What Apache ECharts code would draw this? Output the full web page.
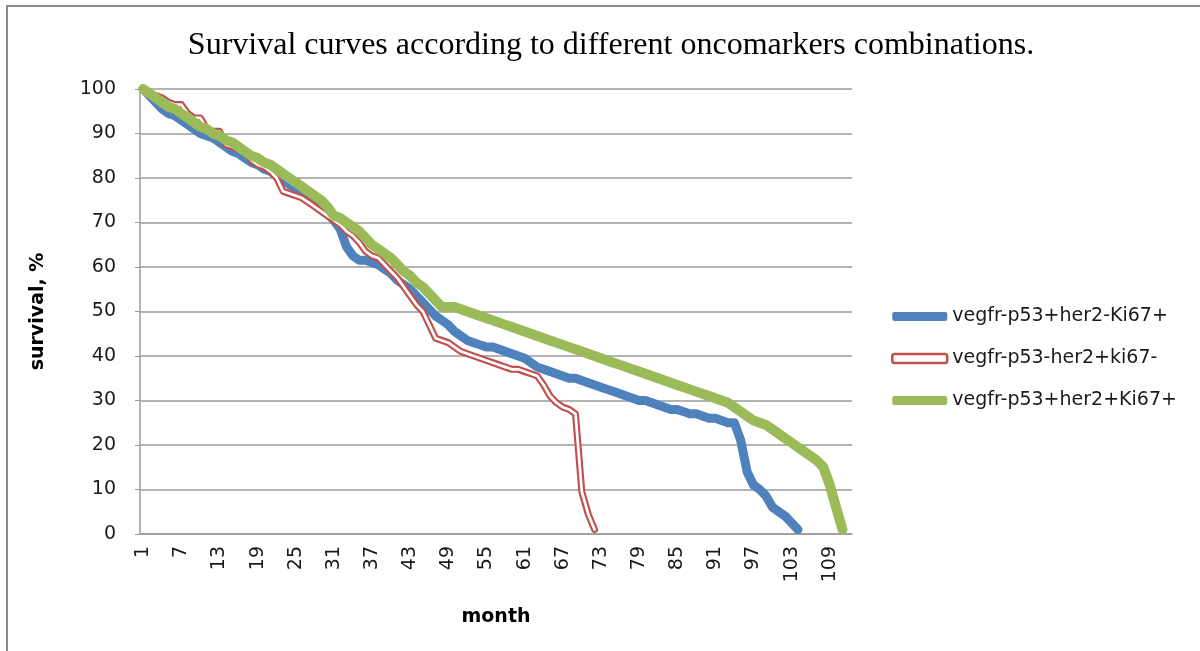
<!DOCTYPE html>
<html>
<head>
<meta charset="utf-8">
<script src="https://cdn.jsdelivr.net/npm/echarts@6/dist/echarts.min.js"></script>
<style>
html,body{margin:0;padding:0;background:#fff;}
#c{width:1200px;height:651px;}
</style>
</head>
<body>
<div id="c"></div>
<script>
// Months 1..112 (category axis)
var months = [];
for (var i = 1; i <= 112; i++) months.push(String(i));

var seriesNames = ['vegfr-p53+her2-Ki67+', 'vegfr-p53-her2+ki67-', 'vegfr-p53+her2+Ki67+'];

var blueValues = [100,98.5,97,95.5,94.5,94,93,92,91,90,
89.5,89,88,87,86,85.5,84.5,83.5,83,82,
81.5,80.5,79.5,78.5,77.5,76.5,75.5,74.5,73.5,72,
70.5,68.5,64.5,62.5,61.5,61.5,61,60.5,59.5,58.5,
57,56,55,53.5,52,50.5,49,48,47,45.5,
44.5,43.5,43,42.5,42,42,41.5,41,40.5,40,
39.5,38.5,37.5,37,36.5,36,35.5,35,35,34.5,
34,33.5,33,32.5,32,31.5,31,30.5,30,30,
29.5,29,28.5,28,28,27.5,27,27,26.5,26,
26,25.5,25,25,21,14,11,10,8.5,6,
5,4,2.5,1];

var redValues = [100,98.5,98.5,98,97,96.5,96.5,94.5,93.5,93.5,
91,90.5,90.5,87.5,87,86.5,86,84,83,82.5,
81.5,80,77,76.5,76,75.5,74.5,73.5,72.5,71.5,
70.5,69.5,68,67,65.5,63.5,62.5,62,60.5,59,
57.5,55.5,53.5,51.5,50,47,44,43.5,43,42,
41,40.5,40,39.5,39,38.5,38,37.5,37,37,
36.5,36,35.5,33.5,31,29.5,28.5,28,27,9.5,
4.5,1];

var greenValues = [100,99,98,97,96,95.5,94.5,93.5,92.5,91.5,
91,90,89.5,88.5,88,87,86,85,84.5,83.5,
83,82,81,80,79,78,77,76,75,73.5,
71.5,71,70,69,68,66.5,65,64,63,62,
60.5,59,58,56.5,55.5,54,52.5,51,51,51,
50.5,50,49.5,49,48.5,48,47.5,47,46.5,46,
45.5,45,44.5,44,43.5,43,42.5,42,41.5,41,
40.5,40,39.5,39,38.5,38,37.5,37,36.5,36,
35.5,35,34.5,34,33.5,33,32.5,32,31.5,31,
30.5,30,29.5,28.5,27.5,26.5,25.5,25,24.5,23.5,
22.5,21.5,20.5,19.5,18.5,17.5,16.5,15,11,6,
1];

var yTicks = {min: 0, max: 100, interval: 10};

var chart = echarts.init(document.getElementById('c'), null, {renderer: 'canvas'});
var sansFont = 'DejaVu Sans';

var option = {
  backgroundColor: '#ffffff',
  animation: false,
  title: {
    text: 'Survival curves according to different oncomarkers combinations.',
    left: 606,
    textAlign: 'center',
    top: 25,
    textStyle: {fontFamily: 'Liberation Serif', fontSize: 32, fontWeight: 'normal', color: '#000'}
  },
  graphic: [{
    type: 'rect',
    shape: {x: 7, y: 6, width: 1220, height: 700},
    style: {fill: 'none', stroke: '#8a8a8a', lineWidth: 2},
    silent: true,
    z: 100
  }],
  legend: {
    orient: 'vertical',
    left: 886,
    top: 302,
    itemWidth: 55,
    itemHeight: 9,
    itemGap: 23,
    textStyle: {fontFamily: sansFont, fontSize: 19, color: '#1a1a1a'},
    data: [
      {name: seriesNames[0], icon: 'roundRect', itemStyle: {color: '#4F81BD', borderWidth: 0}},
      {name: seriesNames[1], icon: 'roundRect', itemStyle: {color: '#ffffff', borderColor: '#C0504D', borderWidth: 2.5}},
      {name: seriesNames[2], icon: 'roundRect', itemStyle: {color: '#9BBB59', borderWidth: 0}}
    ]
  },
  grid: {left: 140, right: 348, top: 89, bottom: 117, containLabel: false},
  xAxis: {
    type: 'category',
    data: months,
    boundaryGap: true,
    name: 'month',
    nameLocation: 'middle',
    nameGap: 74,
    nameTextStyle: {fontFamily: sansFont, fontSize: 19, fontWeight: 'bold', color: '#000'},
    axisLine: {lineStyle: {color: '#9a9a9a', width: 1.5}},
    axisTick: {show: false},
    axisLabel: {
      interval: 5,
      rotate: 90,
      margin: 12,
      fontFamily: sansFont,
      fontSize: 19,
      color: '#1a1a1a'
    },
    splitLine: {show: false}
  },
  yAxis: {
    type: 'value',
    min: yTicks.min,
    max: yTicks.max,
    interval: yTicks.interval,
    name: 'survival, %',
    nameLocation: 'middle',
    nameGap: 92,
    nameRotate: 90,
    nameTextStyle: {fontFamily: sansFont, fontSize: 19, fontWeight: 'bold', color: '#000'},
    axisLine: {show: true, lineStyle: {color: '#9a9a9a', width: 1.5}},
    axisTick: {show: true, inside: false, length: 5, lineStyle: {color: '#9a9a9a'}},
    axisLabel: {margin: 24, fontFamily: sansFont, fontSize: 19, color: '#1a1a1a'},
    splitLine: {show: true, lineStyle: {color: '#9a9a9a', width: 1.5}}
  },
  series: [
    {
      name: seriesNames[0], type: 'line', data: blueValues, symbol: 'none', z: 2,
      lineStyle: {color: '#4F81BD', width: 9, cap: 'round', join: 'round'},
      itemStyle: {color: '#4F81BD'}
    },
    {
      name: seriesNames[1], type: 'line', data: redValues, symbol: 'none', z: 3,
      lineStyle: {color: '#C0504D', width: 7, cap: 'round', join: 'round'},
      itemStyle: {color: '#C0504D'}
    },
    {
      name: 'red-inner', type: 'line', data: redValues, symbol: 'none', z: 4,
      lineStyle: {color: '#ffffff', width: 2.7, cap: 'round', join: 'round'},
      itemStyle: {color: '#ffffff'}, legendHoverLink: false, silent: true
    },
    {
      name: seriesNames[2], type: 'line', data: greenValues, symbol: 'none', z: 5,
      lineStyle: {color: '#9BBB59', width: 10, cap: 'round', join: 'round'},
      itemStyle: {color: '#9BBB59'}
    }
  ]
};
chart.setOption(option);
</script>
</body>
</html>
